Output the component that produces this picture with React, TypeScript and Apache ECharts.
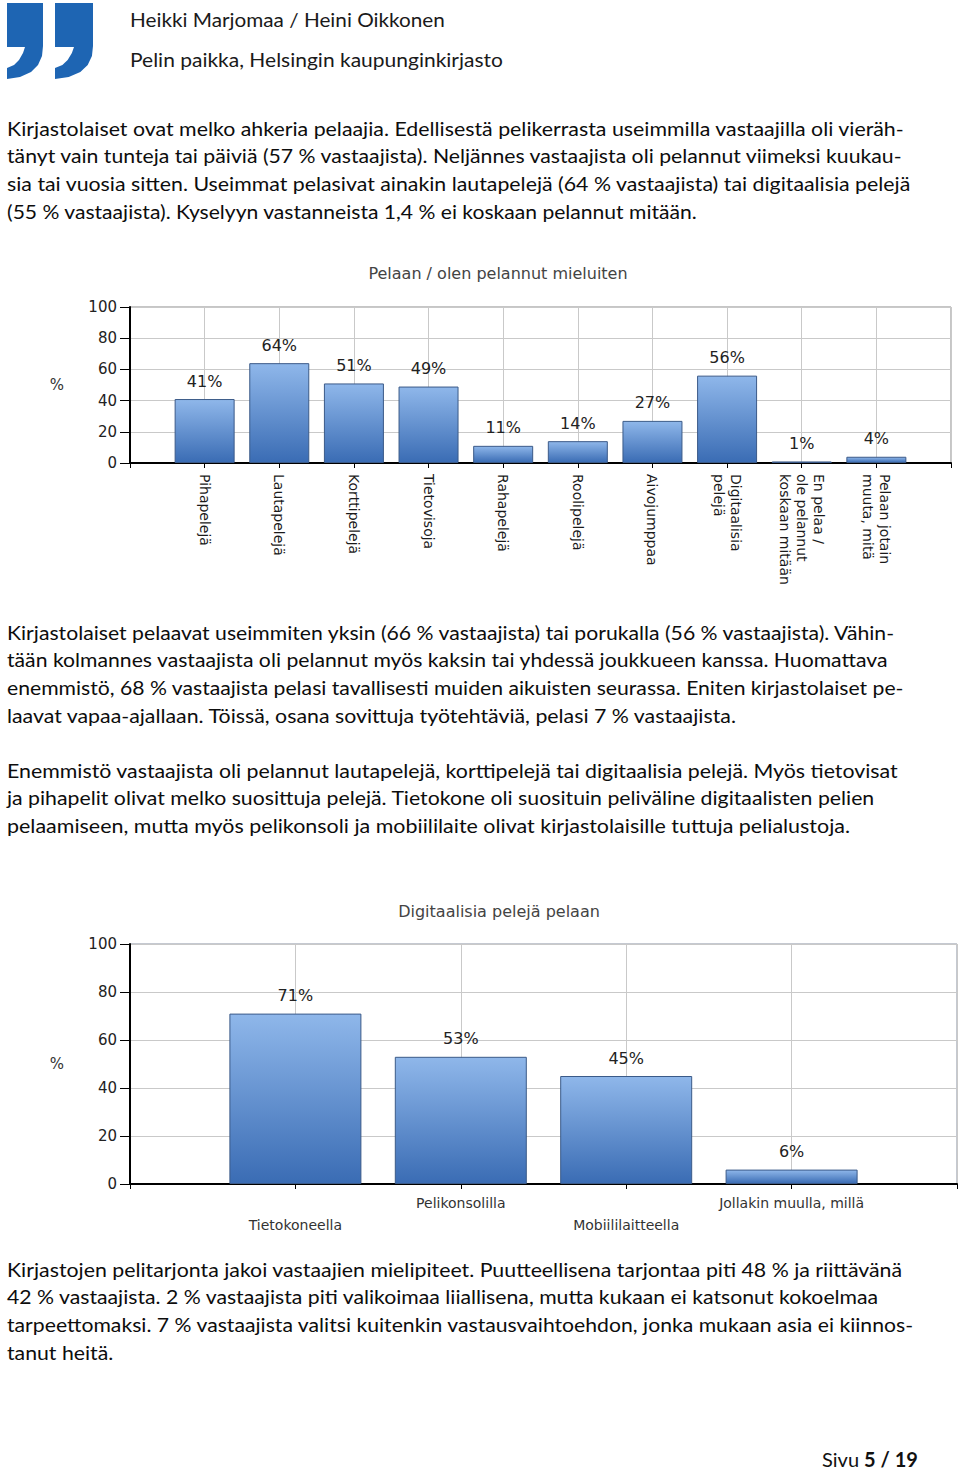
import React, { useEffect, useRef } from 'react';
import * as echarts from 'echarts';

// ---------- data ----------
const chart1Title = 'Pelaan / olen pelannut mieluiten';
const chart1Categories = [
  'Pihapelejä',
  'Lautapelejä',
  'Korttipelejä',
  'Tietovisoja',
  'Rahapelejä',
  'Roolipelejä',
  'Aivojumppaa',
  'Digitaalisia\npelejä',
  'En pelaa /\nole pelannut\nkoskaan mitään',
  'Pelaan jotain\nmuuta, mitä',
];
const chart1Values = [41, 64, 51, 49, 11, 14, 27, 56, 1, 4];

const chart2Title = 'Digitaalisia pelejä pelaan';
const chart2Categories = ['Tietokoneella', 'Pelikonsolilla', 'Mobiililaitteella', 'Jollakin muulla, millä'];
const chart2Values = [71, 53, 45, 6];

const yAxisName = '%';
const yMin = 0;
const yMax = 100;
const yInterval = 20;

const headerLines = ['Heikki Marjomaa / Heini Oikkonen', 'Pelin paikka, Helsingin kaupunginkirjasto'];

const paragraph1 = [
  'Kirjastolaiset ovat melko ahkeria pelaajia. Edellisestä pelikerrasta useimmilla vastaajilla oli vieräh-',
  'tänyt vain tunteja tai päiviä (57 % vastaajista). Neljännes vastaajista oli pelannut viimeksi kuukau-',
  'sia tai vuosia sitten. Useimmat pelasivat ainakin lautapelejä (64 % vastaajista) tai digitaalisia pelejä',
  '(55 % vastaajista). Kyselyyn vastanneista 1,4 % ei koskaan pelannut mitään.',
];
const paragraph2 = [
  'Kirjastolaiset pelaavat useimmiten yksin (66 % vastaajista) tai porukalla (56 % vastaajista). Vähin-',
  'tään kolmannes vastaajista oli pelannut myös kaksin tai yhdessä joukkueen kanssa. Huomattava',
  'enemmistö, 68 % vastaajista pelasi tavallisesti muiden aikuisten seurassa. Eniten kirjastolaiset pe-',
  'laavat vapaa-ajallaan. Töissä, osana sovittuja työtehtäviä, pelasi 7 % vastaajista.',
];
const paragraph3 = [
  'Enemmistö vastaajista oli pelannut lautapelejä, korttipelejä tai digitaalisia pelejä. Myös tietovisat',
  'ja pihapelit olivat melko suosittuja pelejä. Tietokone oli suosituin peliväline digitaalisten pelien',
  'pelaamiseen, mutta myös pelikonsoli ja mobiililaite olivat kirjastolaisille tuttuja pelialustoja.',
];
const paragraph4 = [
  'Kirjastojen pelitarjonta jakoi vastaajien mielipiteet. Puutteellisena tarjontaa piti 48 % ja riittävänä',
  '42 % vastaajista. 2 % vastaajista piti valikoimaa liiallisena, mutta kukaan ei katsonut kokoelmaa',
  'tarpeettomaksi. 7 % vastaajista valitsi kuitenkin vastausvaihtoehdon, jonka mukaan asia ei kiinnos-',
  'tanut heitä.',
];
const footerLabel = 'Sivu';
const footerPage = '5 / 19';

// ---------- layout (not data) ----------
const PAGE_W = 960;
const PAGE_H = 1472;
const TEXT_LEFT = 7;
const LINE_GAP = 27.7;
const paragraphLayout = [
  { lines: paragraph1, top: 128, rights: [905, 904, 912, 698] },
  { lines: paragraph2, top: 632, rights: [897, 889, 905, 738] },
  { lines: paragraph3, top: 770, rights: [899, 876, 850] },
  { lines: paragraph4, top: 1269, rights: [903, 880, 915, 113] },
];
const BODY_FONT = 'Lato';
const BODY_SIZE = 20;
const CHART_FONT = 'DejaVu Sans';

function measure(text: string, font: string): number {
  const c = document.createElement('canvas').getContext('2d');
  if (!c) return text.length * 9;
  c.font = font;
  return c.measureText(text).width;
}

function quotePoints(x0: number, w: number): number[][] {
  const k = w / 36;
  const p = [
    [0, 0], [36, 0], [36, 43], [35, 53], [31, 62], [24, 69], [13, 74], [0, 76],
    [0, 65], [7, 62], [12, 57], [16, 50], [18, 44], [0, 44],
  ];
  return p.map(([x, y]) => [x0 + x * k, 3 + y]);
}

export default function App() {
  const ref = useRef<HTMLDivElement>(null);

  useEffect(() => {
    if (!ref.current) return;
    const chart = echarts.init(ref.current, undefined, { renderer: 'svg', width: PAGE_W, height: PAGE_H });

    const bodyFont = `${BODY_SIZE}px ${BODY_FONT}`;
    let sumT = 0;
    let sumW = 0;
    paragraphLayout.forEach((p) => {
      p.lines.forEach((l, i) => {
        const t = p.rights[i] - TEXT_LEFT;
        if (t > 500) {
          sumT += t;
          sumW += measure(l, bodyFont);
        }
      });
    });
    const globalScale = sumW > 0 ? sumT / sumW : 1;

    const graphics: any[] = [];
    paragraphLayout.forEach((p) => {
      p.lines.forEach((l, i) => {
        const t = p.rights[i] - TEXT_LEFT;
        const w = measure(l, bodyFont);
        const s = t > 500 ? t / w : globalScale;
        graphics.push({
          type: 'text',
          x: TEXT_LEFT,
          y: p.top + i * LINE_GAP,
          scaleX: s,
          style: {
            text: l,
            fill: '#0d0d0d',
            fontSize: BODY_SIZE,
            fontFamily: BODY_FONT,
            verticalAlign: 'middle',
            align: 'left',
          },
        });
      });
    });

    const headerRights = [445, 503];
    const headerY = [19, 59];
    headerLines.forEach((l, i) => {
      const w = measure(l, bodyFont);
      graphics.push({
        type: 'text',
        x: 130,
        y: headerY[i],
        scaleX: (headerRights[i] - 130) / w,
        style: {
          text: l,
          fill: '#1a1a1a',
          fontSize: BODY_SIZE,
          fontFamily: BODY_FONT,
          verticalAlign: 'middle',
          align: 'left',
        },
      });
    });

    graphics.push({ type: 'polygon', shape: { points: quotePoints(7, 36) }, style: { fill: '#1e65b3' } });
    graphics.push({ type: 'polygon', shape: { points: quotePoints(55, 38) }, style: { fill: '#1e65b3' } });

    graphics.push({
      type: 'text',
      x: 822,
      y: 1459,
      style: { text: footerLabel, fill: '#111', fontSize: BODY_SIZE, fontFamily: BODY_FONT, verticalAlign: 'middle' },
    });
    graphics.push({
      type: 'text',
      x: 864,
      y: 1459,
      style: {
        text: footerPage,
        fill: '#111',
        fontSize: BODY_SIZE,
        fontFamily: BODY_FONT,
        fontWeight: 'bold',
        verticalAlign: 'middle',
      },
    });

    graphics.push({
      type: 'text',
      x: 498,
      y: 273,
      style: { text: chart1Title, fill: '#444444', fontSize: 16, fontFamily: CHART_FONT, align: 'center', verticalAlign: 'middle' },
    });
    graphics.push({
      type: 'text',
      x: 499,
      y: 911,
      style: { text: chart2Title, fill: '#444444', fontSize: 16, fontFamily: CHART_FONT, align: 'center', verticalAlign: 'middle' },
    });

    const barGradient = () =>
      new echarts.graphic.LinearGradient(0, 0, 0, 1, [
        { offset: 0, color: '#8fb7ea' },
        { offset: 1, color: '#3a6cb4' },
      ]);

    const cats1 = ['', ...chart1Categories, ''];
    const vals1 = [null, ...chart1Values, null];
    const cats2 = ['', ...chart2Categories, ''];
    const vals2 = [null, ...chart2Values, null];

    const commonY = (grid: number) => ({
      type: 'value',
      gridIndex: grid,
      min: yMin,
      max: yMax,
      interval: yInterval,
      name: yAxisName,
      nameLocation: 'middle',
      nameRotate: 0,
      nameGap: 66,
      nameTextStyle: { fontSize: 15, fontFamily: CHART_FONT, color: '#333' },
      axisLine: { show: true, lineStyle: { color: '#000', width: 2 } },
      axisTick: { show: true, length: 10, lineStyle: { color: '#000', width: 1 } },
      axisLabel: { fontSize: 15, fontFamily: CHART_FONT, color: '#222', margin: 13 },
      splitLine: { show: true, lineStyle: { color: '#c9c9c9', width: 1 } },
    });

    const valueLabel = {
      show: true,
      position: 'top',
      distance: 10,
      formatter: '{c}%',
      fontSize: 16,
      fontFamily: CHART_FONT,
      color: '#222',
    };

    const option: any = {
      animation: false,
      backgroundColor: '#ffffff',
      grid: [
        { left: 130, top: 307, width: 821, height: 156, show: true, borderColor: '#8c8c8c', borderWidth: 1, containLabel: false, outerBoundsMode: 'none' },
        { left: 130, top: 944, width: 827, height: 240, show: true, borderColor: '#8a93a3', borderWidth: 1, containLabel: false, outerBoundsMode: 'none' },
      ],
      xAxis: [
        {
          type: 'category',
          gridIndex: 0,
          data: cats1,
          boundaryGap: false,
          axisLine: { show: true, lineStyle: { color: '#000', width: 2 } },
          axisTick: { show: true, length: 5, interval: 0, lineStyle: { color: '#000', width: 1 } },
          axisLabel: {
            interval: 0,
            rotate: -90,
            margin: 11,
            fontSize: 14,
            lineHeight: 17,
            fontFamily: CHART_FONT,
            color: '#1a1a1a',
          },
          splitLine: { show: true, interval: 0, lineStyle: { color: '#c9c9c9', width: 1 } },
        },
        {
          type: 'category',
          gridIndex: 1,
          data: cats2,
          boundaryGap: false,
          axisLine: { show: true, lineStyle: { color: '#000', width: 2 } },
          axisTick: { show: true, length: 5, interval: 0, lineStyle: { color: '#000', width: 1 } },
          axisLabel: {
            interval: 0,
            margin: 8,
            fontSize: 14,
            lineHeight: 22,
            fontFamily: CHART_FONT,
            color: '#333',
            formatter: (v: string, i: number) => (v === '' ? '' : i % 2 === 1 ? '\n' + v : v),
          },
          splitLine: { show: true, interval: 0, lineStyle: { color: '#c9c9c9', width: 1 } },
        },
      ],
      yAxis: [commonY(0), commonY(1)],
      series: [
        {
          type: 'bar',
          xAxisIndex: 0,
          yAxisIndex: 0,
          data: vals1,
          barWidth: 60,
          itemStyle: { color: barGradient(), borderColor: '#3b5a88', borderWidth: 1 },
          label: valueLabel,
        },
        {
          type: 'bar',
          xAxisIndex: 1,
          yAxisIndex: 1,
          data: vals2,
          barWidth: 132,
          itemStyle: { color: barGradient(), borderColor: '#3b5a88', borderWidth: 1 },
          label: valueLabel,
        },
      ],
      graphic: graphics,
    };

    chart.setOption(option);
    return () => chart.dispose();
  }, []);

  return (
    <div
      ref={ref}
      style={{ position: 'absolute', left: 0, top: 0, width: PAGE_W, height: PAGE_H, background: '#fff' }}
    />
  );
}
